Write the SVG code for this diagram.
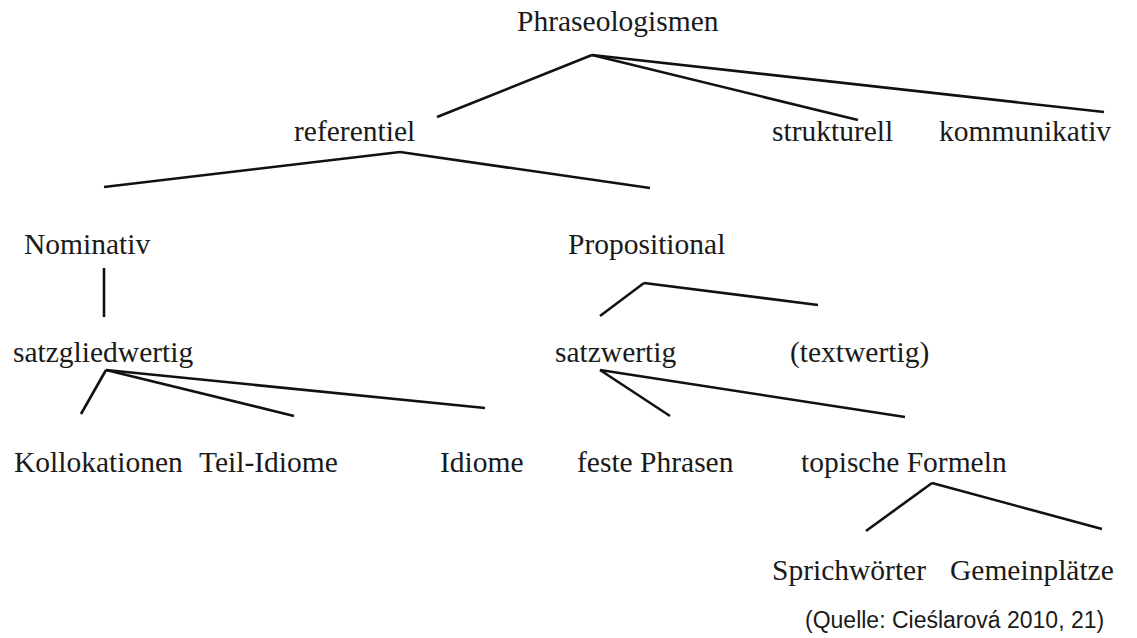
<svg xmlns="http://www.w3.org/2000/svg" width="1137" height="638" viewBox="0 0 1137 638">
<style>
.t{font-family:"Liberation Serif","Times New Roman",serif;font-size:29.5px;fill:#1a1a1a}
.q{font-family:"Liberation Sans",Arial,sans-serif;font-size:23px;fill:#1a1a1a}
.c line{stroke:#111;stroke-width:2.6;stroke-linecap:butt}
</style>
<rect width="1137" height="638" fill="#fff"/>
<g class="c" id="connectors">
<line x1="592" y1="55" x2="437" y2="117"/>
<line x1="592" y1="55" x2="858" y2="120"/>
<line x1="592" y1="55" x2="1104" y2="112"/>
<line x1="400" y1="152" x2="104" y2="187"/>
<line x1="400" y1="152" x2="650" y2="188"/>
<line x1="104" y1="268" x2="104" y2="317"/>
<line x1="644" y1="283" x2="600" y2="316"/>
<line x1="644" y1="283" x2="818" y2="305"/>
<line x1="106" y1="370" x2="81" y2="414"/>
<line x1="106" y1="370" x2="294" y2="416"/>
<line x1="106" y1="370" x2="485" y2="408"/>
<line x1="600" y1="370" x2="670" y2="416"/>
<line x1="600" y1="370" x2="905" y2="417"/>
<line x1="932" y1="483" x2="866" y2="531"/>
<line x1="932" y1="483" x2="1102" y2="529"/>
</g>
<g id="n-phraseologismen"><text class="t" x="517" y="31">Phraseologismen</text></g>
<g id="n-referentiel"><text class="t" x="294" y="141">referentiel</text></g>
<g id="n-strukturell"><text class="t" x="772" y="141">strukturell</text></g>
<g id="n-kommunikativ"><text class="t" x="939" y="141">kommunikativ</text></g>
<g id="n-nominativ"><text class="t" x="24" y="254">Nominativ</text></g>
<g id="n-propositional"><text class="t" x="568" y="254">Propositional</text></g>
<g id="n-satzgliedwertig"><text class="t" x="13" y="362">satzgliedwertig</text></g>
<g id="n-satzwertig"><text class="t" x="555" y="362">satzwertig</text></g>
<g id="n-textwertig"><text class="t" x="790" y="362">(textwertig)</text></g>
<g id="n-kollokationen"><text class="t" x="14" y="472">Kollokationen</text></g>
<g id="n-teil-idiome"><text class="t" x="199" y="472">Teil-Idiome</text></g>
<g id="n-idiome"><text class="t" x="440" y="472">Idiome</text></g>
<g id="n-feste-phrasen"><text class="t" x="577" y="472">feste Phrasen</text></g>
<g id="n-topische-formeln"><text class="t" x="801" y="472">topische Formeln</text></g>
<g id="n-sprichwoerter"><text class="t" x="772" y="580">Sprichwörter</text></g>
<g id="n-gemeinplaetze"><text class="t" x="950" y="580">Gemeinplätze</text></g>
<g id="source"><text class="q" x="805" y="628">(Quelle: Cieślarová 2010, 21)</text></g>
</svg>
